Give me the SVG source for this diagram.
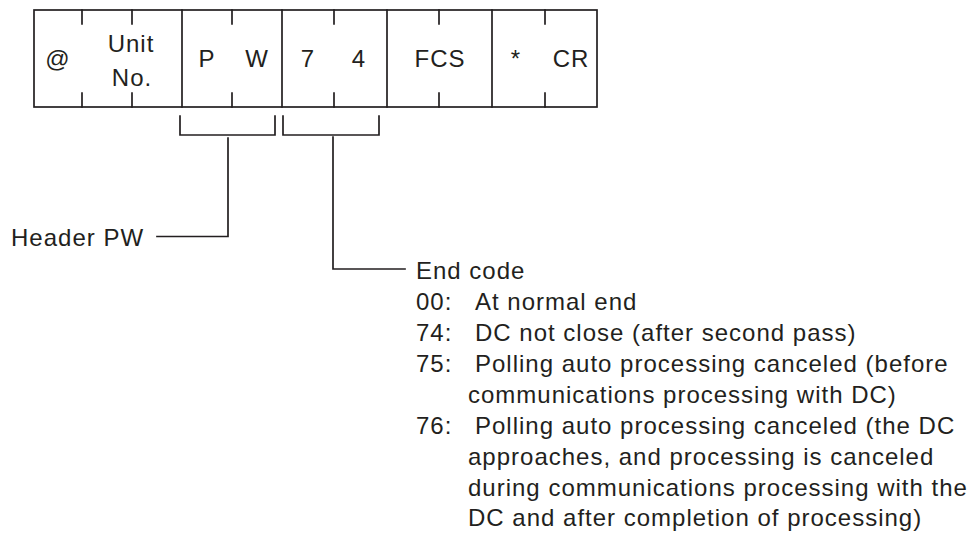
<svg xmlns="http://www.w3.org/2000/svg" width="978" height="538" viewBox="0 0 978 538">
<style>
.ln{fill:none;stroke:#231f20;stroke-width:1.7;stroke-linecap:square}
text{font-family:"Liberation Sans",Arial,sans-serif;font-size:24px;fill:#231f20;letter-spacing:1px}
.c{text-anchor:middle}
</style>
<rect width="978" height="538" fill="#fff"/>
<g id="frame">
<rect class="ln" x="34" y="10" width="563" height="97"/>
<path class="ln" d="M182 10V107M282 10V107M387 10V107M492 10V107"/>
<path class="ln" d="M82 10V24M82 93V107M132 10V24M132 93V107M232 10V24M232 93V107M334 10V24M334 93V107M439 10V24M439 93V107M545 10V24M545 93V107"/>
</g>
<g id="cell-at"><text class="c" x="58" y="67">@</text></g>
<g id="cell-unit"><text class="c" x="131" y="52">Unit</text><text class="c" x="132" y="86">No.</text></g>
<g id="cell-p"><text class="c" x="207" y="67">P</text></g>
<g id="cell-w"><text class="c" x="257" y="67">W</text></g>
<g id="cell-7"><text class="c" x="308" y="67">7</text></g>
<g id="cell-4"><text class="c" x="359" y="67">4</text></g>
<g id="cell-fcs"><text class="c" x="440" y="67">FCS</text></g>
<g id="cell-star"><text class="c" x="516" y="67">*</text></g>
<g id="cell-cr"><text class="c" x="571" y="67">CR</text></g>
<g id="connectors">
<path class="ln" d="M180 116V135H275V116"/>
<path class="ln" d="M283 116V135H379V116"/>
<path class="ln" d="M228 138V236.5H157"/>
<path class="ln" d="M333 137V269H405"/>
</g>
<g id="header-pw"><text x="11" y="246">Header PW</text></g>
<g id="end-code">
<text x="416" y="279">End code</text>
<text x="416" y="310">00:</text><text x="475" y="310">At normal end</text>
<text x="416" y="341">74:</text><text x="475" y="341">DC not close (after second pass)</text>
<text x="416" y="372">75:</text><text x="475" y="372">Polling auto processing canceled (before</text>
<text x="468" y="403">communications processing with DC)</text>
<text x="416" y="434">76:</text><text x="475" y="434">Polling auto processing canceled (the DC</text>
<text x="468" y="465">approaches, and processing is canceled</text>
<text x="468" y="496">during communications processing with the</text>
<text x="468" y="526">DC and after completion of processing)</text>
</g>
</svg>
